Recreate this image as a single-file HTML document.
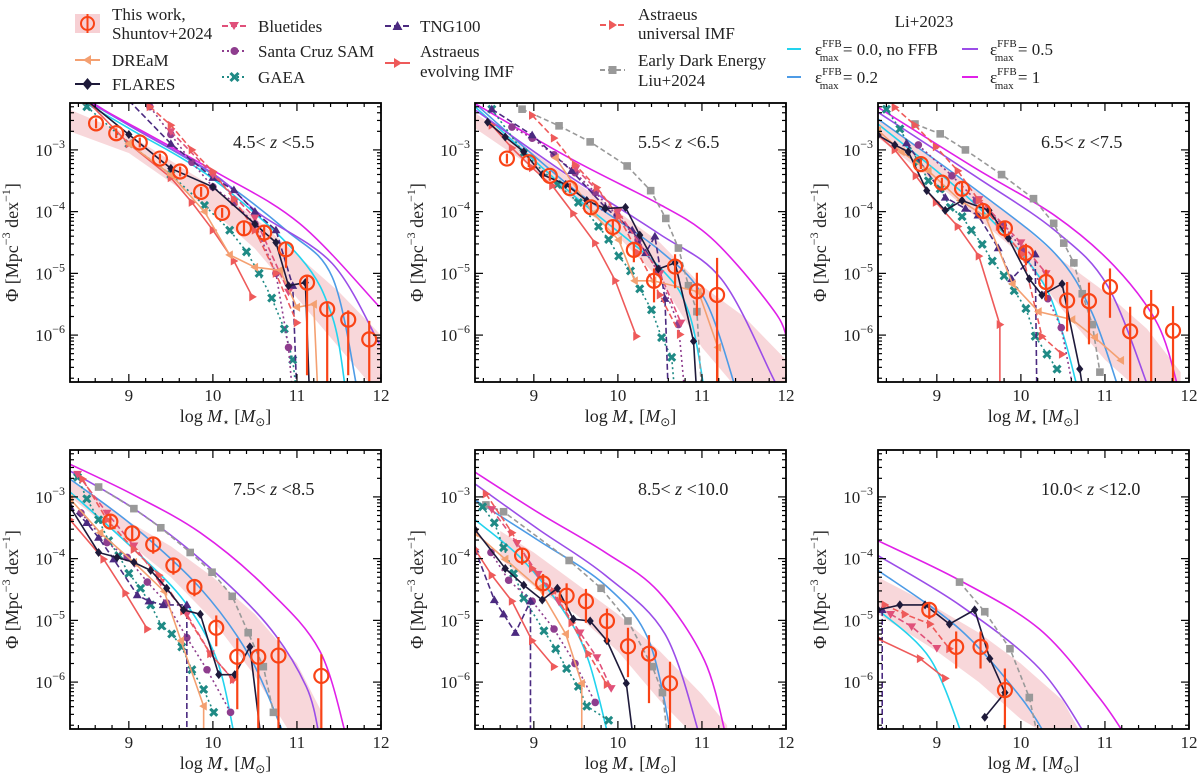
<!DOCTYPE html>
<html><head><meta charset="utf-8">
<style>
html,body{margin:0;padding:0;background:#fff;}
svg{display:block;font-family:"Liberation Serif",serif;}
</style></head>
<body>
<svg id="chart" width="1200" height="778" viewBox="0 0 1200 778" xmlns="http://www.w3.org/2000/svg">
<g id="legend" font-size="17" fill="#222">
  <g>
    <rect x="75" y="14" width="25" height="19" fill="#f7d0d4"/>
    <line x1="87.5" y1="14" x2="87.5" y2="33" stroke="#f94316" stroke-width="2"/>
    <circle cx="87.5" cy="23.5" r="6.5" fill="none" stroke="#f94316" stroke-width="2"/>
    <text x="112" y="20">This work,</text><text x="112" y="39">Shuntov+2024</text>
  </g>
  <g>
    <line x1="75" y1="60" x2="100" y2="60" stroke="#f4a071" stroke-width="2"/>
    <polygon points="83,60 91,55 91,65" fill="#f4a071"/>
    <text x="112" y="66">DREaM</text>
  </g>
  <g>
    <line x1="75" y1="84" x2="100" y2="84" stroke="#1e1a3a" stroke-width="2"/>
    <polygon points="87.5,78 92.5,84 87.5,90 82.5,84" fill="#1e1a3a"/>
    <text x="112" y="90">FLARES</text>
  </g>
  <g>
    <line x1="222" y1="26" x2="247" y2="26" stroke="#e0507a" stroke-width="2" stroke-dasharray="6,3"/>
    <polygon points="229,22 239,22 234,30" fill="#e0507a"/>
    <text x="258" y="32">Bluetides</text>
  </g>
  <g>
    <line x1="222" y1="51" x2="247" y2="51" stroke="#8e3d8e" stroke-width="2" stroke-dasharray="2,3"/>
    <circle cx="234.5" cy="51" r="4" fill="#8e3d8e"/>
    <text x="258" y="57">Santa Cruz SAM</text>
  </g>
  <g>
    <line x1="222" y1="77" x2="247" y2="77" stroke="#1f8a85" stroke-width="2" stroke-dasharray="2,3"/>
    <path d="M230.5,73 L238.5,81 M238.5,73 L230.5,81" stroke="#1f8a85" stroke-width="3"/>
    <text x="258" y="83">GAEA</text>
  </g>
  <g>
    <line x1="385" y1="26" x2="410" y2="26" stroke="#4b2a80" stroke-width="2" stroke-dasharray="6,3"/>
    <polygon points="397.5,21 402.5,30 392.5,30" fill="#4b2a80"/>
    <text x="420" y="32">TNG100</text>
  </g>
  <g>
    <line x1="385" y1="63" x2="410" y2="63" stroke="#ee5a5a" stroke-width="2"/>
    <polygon points="402,63 394,58 394,68" fill="#ee5a5a"/>
    <text x="420" y="57">Astraeus</text><text x="420" y="77">evolving IMF</text>
  </g>
  <g>
    <line x1="600" y1="25" x2="625" y2="25" stroke="#ee5a5a" stroke-width="2" stroke-dasharray="6,3"/>
    <polygon points="617,25 609,20 609,30" fill="#ee5a5a"/>
    <text x="638" y="20">Astraeus</text><text x="638" y="39">universal IMF</text>
  </g>
  <g>
    <line x1="600" y1="70" x2="625" y2="70" stroke="#999" stroke-width="2" stroke-dasharray="5,3"/>
    <rect x="608.5" y="66" width="8" height="8" fill="#999"/>
    <text x="638" y="66">Early Dark Energy</text><text x="638" y="86">Liu+2024</text>
  </g>
  <text x="924" y="27" text-anchor="middle">Li+2023</text>
  <g>
    <line x1="787" y1="49" x2="801" y2="49" stroke="#22d3ee" stroke-width="2"/>
    <text x="815" y="55">ε<tspan font-size="11" dy="-8">FFB</tspan><tspan font-size="11" dx="-22" dy="14">max</tspan><tspan dy="-6"> = 0.0, no FFB</tspan></text>
  </g>
  <g>
    <line x1="787" y1="77" x2="801" y2="77" stroke="#4d9be6" stroke-width="2"/>
    <text x="815" y="83">ε<tspan font-size="11" dy="-8">FFB</tspan><tspan font-size="11" dx="-22" dy="14">max</tspan><tspan dy="-6"> = 0.2</tspan></text>
  </g>
  <g>
    <line x1="962" y1="49" x2="978" y2="49" stroke="#9b4de8" stroke-width="2"/>
    <text x="990" y="55">ε<tspan font-size="11" dy="-8">FFB</tspan><tspan font-size="11" dx="-22" dy="14">max</tspan><tspan dy="-6"> = 0.5</tspan></text>
  </g>
  <g>
    <line x1="962" y1="77" x2="978" y2="77" stroke="#e020e8" stroke-width="2"/>
    <text x="990" y="83">ε<tspan font-size="11" dy="-8">FFB</tspan><tspan font-size="11" dx="-22" dy="14">max</tspan><tspan dy="-6"> = 1</tspan></text>
  </g>
</g>
</svg>
<script>
// ---------- data (x = log M*, y = log10 Phi) ----------
const xTicks = [9, 10, 11, 12];
const yTicks = [-3, -4, -5, -6];
const zLabels = ["4.5", "5.5", "6.5", "7.5", "8.5", "10.0", "12.0"];

// Shuntov+2024: [logM, logPhi, errLow, errHigh]
const shuntov_z5 = [[8.61,-2.57,.08,.08],[8.85,-2.73,.08,.08],[9.13,-2.88,.08,.08],[9.37,-3.14,.08,.08],[9.61,-3.35,.08,.08],[9.86,-3.68,.08,.08],[10.11,-4.02,.08,.08],[10.37,-4.27,.12,.1],[10.61,-4.34,.15,.1],[10.87,-4.61,.3,.1],[11.12,-5.15,1.5,.1],[11.36,-5.58,1.5,.1],[11.61,-5.75,.9,.15],[11.86,-6.07,1.5,.3]];
const shuntov_z6 = [[8.68,-3.14,.08,.08],[8.94,-3.20,.08,.08],[9.19,-3.42,.08,.08],[9.43,-3.62,.08,.08],[9.68,-3.93,.1,.08],[9.94,-4.25,.15,.1],[10.19,-4.62,.2,.12],[10.43,-5.12,.35,.2],[10.68,-4.89,.35,.2],[10.94,-5.29,.4,.3],[11.18,-5.35,1.5,.6]];
const shuntov_z7 = [[8.81,-3.23,.08,.08],[9.06,-3.53,.1,.08],[9.30,-3.63,.12,.1],[9.55,-3.99,.12,.1],[9.81,-4.27,.15,.1],[10.06,-4.67,.2,.15],[10.30,-5.14,.3,.2],[10.55,-5.44,.5,.3],[10.81,-5.45,.7,.3],[11.06,-5.22,.5,.3],[11.30,-5.94,1.5,.4],[11.55,-5.62,1.5,.35],[11.81,-5.93,1.5,.4]];
const shuntov_z8 = [[8.78,-3.40,.1,.1],[9.04,-3.59,.1,.1],[9.29,-3.77,.15,.12],[9.53,-4.11,.15,.12],[9.78,-4.46,.15,.12],[10.04,-5.12,.3,.2],[10.29,-5.59,.85,.3],[10.54,-5.59,1.5,.3],[10.78,-5.57,1.5,.3],[11.29,-5.90,1.5,.35]];
const shuntov_z9 = [[8.86,-3.95,.15,.1],[9.11,-4.40,.2,.15],[9.39,-4.60,.25,.2],[9.62,-4.69,.35,.2],[9.87,-5.01,.35,.2],[10.12,-5.42,.5,.3],[10.37,-5.54,.8,.3],[10.62,-6.02,1.5,.35]];
const shuntov_z11 = [[8.91,-4.83,.15,.1],[9.23,-5.43,.35,.25],[9.52,-5.43,.35,.25],[9.81,-6.13,1.0,.35]];

// Shuntov shaded band: [logM, low, high]
const band_z5 = [[8.3,-2.7,-2.35],[9,-3.05,-2.75],[10,-4.0,-3.6],[10.5,-4.6,-4.1],[11,-5.4,-4.7],[11.5,-6.2,-5.3],[12,-7,-6.0]];
const band_z6 = [[8.3,-2.65,-2.4],[9,-3.3,-3.05],[10,-4.4,-4.0],[10.5,-5.1,-4.5],[11,-6.2,-5.2],[11.5,-7,-5.7],[12,-7,-6.4]];
const band_z7 = [[8.3,-2.8,-2.5],[9,-3.55,-3.2],[10,-4.7,-4.2],[10.5,-5.6,-4.8],[11,-6.4,-5.3],[11.5,-7,-5.9],[11.9,-7,-6.6]];
const band_z8 = [[8.3,-3.0,-2.7],[9,-3.75,-3.4],[9.5,-4.3,-3.8],[10,-5.0,-4.3],[10.5,-5.9,-4.9],[11,-7,-5.7],[11.3,-7,-6.5]];
const band_z9 = [[8.6,-4.0,-3.55],[9,-4.45,-3.9],[9.5,-4.9,-4.4],[10,-5.5,-4.9],[10.5,-6.3,-5.5],[11,-7,-6.2],[11.3,-7,-6.7]];
const band_z11 = [[8.3,-4.9,-4.3],[9,-5.5,-4.8],[9.5,-6.0,-5.2],[10,-6.6,-5.7],[10.5,-7,-6.3],[10.7,-7,-6.8]];

// Li+2023 FFB models
const liEps0_z5 = [[8.3,-2.1],[9.0,-2.65],[10.0,-3.47],[11.03,-4.73],[11.42,-5.70],[11.58,-6.9]];
const liEps02_z5 = [[8.3,-2.05],[9.0,-2.6],[10.0,-3.4],[10.87,-4.30],[11.42,-5.06],[11.72,-6.9]];
const liEps05_z5 = [[8.3,-2.0],[9.0,-2.6],[10.0,-3.38],[10.55,-4.03],[11.42,-4.84],[11.98,-6.14]];
const liEps1_z5 = [[8.3,-2.0],[8.5,-2.2],[10.0,-3.33],[11.03,-4.19],[11.98,-5.54]];
const liEps0_z6 = [[8.3,-2.3],[9.45,-3.71],[10.48,-4.88],[10.84,-5.62],[11.03,-6.9]];
const liEps02_z6 = [[8.3,-2.25],[9.45,-3.61],[10.48,-4.61],[11.03,-5.41],[11.41,-6.9]];
const liEps05_z6 = [[8.3,-2.35],[9.45,-3.45],[10.48,-4.35],[11.23,-5.09],[11.83,-6.65],[11.9,-6.9]];
const liEps1_z6 = [[8.3,-2.25],[9.45,-3.15],[10.48,-3.87],[11.0,-4.3],[11.43,-4.88],[11.89,-5.67],[12.0,-6.0]];
const liEps0_z7 = [[8.3,-2.58],[9.45,-3.87],[10.21,-5.04],[10.49,-5.94],[10.68,-6.9]];
const liEps02_z7 = [[8.3,-2.5],[9.45,-3.63],[10.4,-4.67],[10.84,-5.62],[11.17,-6.9]];
const liEps05_z7 = [[8.3,-2.39],[9.45,-3.42],[10.4,-4.30],[11.03,-5.20],[11.53,-6.9]];
const liEps1_z7 = [[8.3,-2.31],[9.45,-3.29],[10.4,-4.06],[11.11,-4.88],[11.63,-5.83],[11.88,-6.9]];
const liEps0_z8 = [[8.3,-2.92],[9.06,-3.85],[9.66,-4.69],[10.05,-5.65],[10.26,-6.9]];
const liEps02_z8 = [[8.3,-2.71],[9.06,-3.48],[9.85,-4.48],[10.44,-5.59],[10.86,-6.9]];
const liEps05_z8 = [[8.3,-2.58],[9.06,-3.19],[9.85,-4.01],[10.64,-5.06],[11.11,-6.07],[11.27,-6.9]];
const liEps1_z8 = [[8.3,-2.47],[9.06,-2.97],[9.85,-3.58],[10.64,-4.48],[11.27,-5.49],[11.59,-6.9]];
const liEps0_z9 = [[8.3,-3.37],[8.86,-4.01],[9.38,-4.90],[9.65,-5.65],[9.89,-6.9]];
const liEps02_z9 = [[8.3,-3.05],[9.06,-3.71],[9.85,-4.43],[10.36,-5.30],[10.64,-6.9]];
const liEps05_z9 = [[8.3,-2.79],[9.06,-3.53],[9.85,-4.27],[10.56,-5.22],[10.98,-6.9]];
const liEps1_z9 = [[8.3,-2.60],[9.06,-3.26],[9.85,-3.90],[10.48,-4.53],[11.03,-5.65],[11.29,-6.9]];
const liEps0_z11 = [[8.3,-4.83],[8.92,-5.62],[9.33,-6.97]];
const liEps02_z11 = [[8.3,-4.19],[9.27,-5.14],[10.0,-6.25],[10.34,-6.97]];
const liEps05_z11 = [[8.3,-3.95],[9.27,-4.75],[10.22,-5.78],[10.82,-6.97]];
const liEps1_z11 = [[8.3,-3.71],[9.27,-4.35],[10.22,-5.14],[10.93,-6.25],[11.29,-6.97]];

// Simulations / SAMs
const flares_z5 = [[8.5,-2.2],[9.0,-2.75],[9.5,-3.3],[10.0,-3.6],[10.5,-4.2],[10.75,-4.5],[10.9,-5.2],[11.1,-5.15],[11.15,-7]];
const flares_z6 = [[8.45,-2.55],[8.66,-2.79],[8.88,-3.03],[9.10,-3.40],[9.38,-3.56],[9.63,-3.82],[9.85,-3.95],[10.09,-3.93],[10.26,-4.38],[10.48,-4.93],[10.68,-4.83],[10.90,-6.10],[10.94,-7]];
const flares_z7 = [[8.3,-2.76],[8.5,-2.92],[8.66,-3.03],[8.88,-3.66],[9.1,-3.98],[9.3,-3.82],[9.62,-3.98],[9.85,-4.43],[10.1,-5.09],[10.25,-5.35],[10.49,-5.17],[10.7,-6.55],[10.75,-7]];
const flares_z8 = [[8.3,-3.16],[8.64,-3.90],[8.86,-3.98],[9.06,-4.06],[9.26,-4.19],[9.45,-4.48],[9.65,-4.83],[9.85,-4.90],[10.07,-5.88],[10.26,-5.88],[10.44,-5.43],[10.58,-7]];
const flares_z9 = [[8.3,-3.53],[8.66,-4.16],[8.88,-4.43],[9.1,-4.67],[9.28,-4.48],[9.47,-4.98],[9.67,-5.01],[9.87,-5.33],[10.1,-6.02],[10.19,-7]];
const flares_z11 = [[8.3,-4.83],[8.56,-4.75],[8.86,-4.75],[9.15,-5.06],[9.45,-4.83],[9.63,-5.62],[9.81,-6.17],[9.57,-6.57]];

const gaea_z5 = [[8.5,-2.3],[9.0,-2.9],[9.5,-3.4],[9.9,-3.9],[10.2,-4.3],[10.4,-4.65],[10.55,-5.0],[10.7,-5.4],[10.85,-5.9],[10.95,-6.4],[11.0,-7]];
const gaea_z6 = [[8.5,-2.34],[8.88,-3.05],[9.28,-3.56],[9.53,-3.85],[9.77,-4.24],[9.89,-4.45],[10.01,-4.72],[10.15,-4.96],[10.26,-5.25],[10.40,-5.59],[10.52,-6.04],[10.64,-6.36],[10.68,-7]];
const gaea_z7 = [[8.4,-2.34],[8.56,-2.66],[8.78,-3.19],[8.9,-3.5],[9.04,-3.63],[9.16,-3.93],[9.30,-4.08],[9.41,-4.3],[9.54,-4.53],[9.66,-4.80],[9.80,-5.04],[9.92,-5.28],[10.06,-5.57],[10.17,-6.02],[10.31,-6.31],[10.43,-6.55]];
const gaea_z8 = [[8.39,-2.68],[8.5,-3.03],[8.64,-3.37],[8.76,-3.71],[8.88,-3.95],[9.0,-4.24],[9.14,-4.48],[9.26,-4.75],[9.39,-5.09],[9.51,-5.22],[9.63,-5.43],[9.75,-5.80],[9.89,-6.12],[10.01,-6.49]];
const gaea_z9 = [[8.39,-3.16],[8.53,-3.42],[8.64,-3.82],[8.76,-4.24],[8.88,-4.64],[9.12,-5.17],[9.26,-5.46],[9.39,-5.78],[9.53,-6.07],[9.63,-6.39],[9.89,-6.62]];
const gaea_z11 = [];

const santacruz_z5 = [[9.0,-2.1],[9.25,-2.3],[9.5,-2.75],[9.75,-3.2],[10.0,-3.6],[10.25,-3.85],[10.5,-4.2],[10.75,-5.0],[10.9,-6.2],[10.95,-7]];
const santacruz_z6 = [[8.74,-2.63],[8.98,-2.81],[9.24,-3.08],[9.49,-3.37],[9.73,-3.69],[9.99,-4.06],[10.24,-4.46],[10.48,-4.98],[10.72,-5.83],[10.8,-7]];
const santacruz_z7 = [[8.78,-2.92],[9.18,-3.42],[9.47,-3.82],[9.79,-4.22],[10.02,-4.61],[10.32,-5.41],[10.48,-5.88],[10.64,-7]];
const santacruz_z8 = [[8.43,-3.26],[8.74,-3.74],[8.98,-3.98],[9.22,-4.38],[9.45,-4.72],[9.69,-5.28],[9.93,-5.80],[10.21,-6.49]];
const santacruz_z9 = [[8.49,-3.90],[8.7,-4.35],[8.98,-4.69],[9.24,-5.14],[9.49,-5.70],[9.73,-6.33]];
const santacruz_z11 = [];

const tng_z5 = [[9.0,-2.2],[9.5,-2.9],[10.0,-3.45],[10.25,-3.65],[10.5,-4.0],[10.75,-4.3],[10.95,-5.2],[11.0,-7]];
const tng_z6 = [[8.5,-2.34],[8.98,-2.76],[9.45,-3.34],[9.85,-3.93],[10.17,-4.30],[10.33,-4.67],[10.44,-4.4],[10.56,-5.41],[10.6,-7]];
const tng_z7 = [[8.64,-2.89],[9.1,-3.77],[9.34,-3.95],[9.49,-4.06],[9.73,-4.59],[9.89,-5.09],[10.17,-4.69],[10.19,-7]];
const tng_z8 = [[8.3,-3.16],[8.5,-3.42],[8.64,-3.66],[8.82,-4.01],[9.1,-4.59],[9.24,-4.69],[9.41,-4.75],[9.69,-4.75],[9.69,-7]];
const tng_z9 = [[8.3,-3.85],[8.53,-4.67],[8.64,-4.90],[8.78,-5.20],[8.96,-4.69],[8.96,-7]];
const tng_z11 = [[8.35,-4.83],[8.35,-7]];

const astUniv_z5 = [[9.25,-2.3],[9.5,-2.6],[9.75,-3.0],[10.0,-3.35],[10.25,-3.8],[10.5,-4.3],[10.75,-5.0],[11.0,-5.8]];
const astUniv_z6 = [[8.98,-2.44],[9.24,-2.81],[9.49,-3.24],[9.75,-3.61],[10.01,-4.08],[10.24,-4.67],[10.50,-5.35],[10.74,-5.99]];
const astUniv_z7 = [[8.5,-2.31],[8.74,-2.60],[8.99,-2.95],[9.25,-3.34],[9.5,-3.82],[9.74,-4.24],[10.02,-4.69],[10.25,-6.02],[10.49,-6.31]];
const astUniv_z8 = [[8.45,-2.71],[8.74,-3.37],[9.06,-3.85],[9.36,-4.27],[9.65,-4.85],[9.97,-5.54],[10.24,-5.96]];
const astUniv_z9 = [[8.43,-2.95],[8.74,-3.58],[8.98,-4.16],[9.24,-4.53],[9.45,-5.04],[9.65,-5.54],[9.87,-6.04]];
const astUniv_z11 = [[8.38,-4.75],[8.62,-4.90],[8.92,-5.06],[9.15,-5.46]];

const astEvol_z5 = [[8.5,-2.2],[9.0,-2.9],[9.5,-3.45],[9.75,-3.85],[10.0,-4.3],[10.25,-4.8],[10.47,-5.38]];
const astEvol_z6 = [[8.5,-2.6],[8.74,-2.97],[8.98,-3.29],[9.22,-3.58],[9.47,-4.03],[9.73,-4.51],[9.97,-5.12],[10.22,-6.02]];
const astEvol_z7 = [[8.3,-2.76],[8.5,-3.0],[8.75,-3.42],[8.99,-3.85],[9.25,-4.24],[9.5,-4.72],[9.75,-5.83],[9.75,-7]];
const astEvol_z8 = [[8.3,-3.37],[8.7,-4.01],[8.96,-4.56],[9.22,-5.14]];
const astEvol_z9 = [[8.3,-3.85],[8.5,-4.27],[8.74,-4.69],[8.98,-5.33],[9.24,-5.75]];
const astEvol_z11 = [[8.3,-5.3],[8.8,-5.62],[9.1,-5.94]];

const bluetides_z5 = [[9.5,-2.7],[10.0,-3.4],[10.5,-4.1],[10.9,-5.3]];
const bluetides_z6 = [[9.5,-3.3],[10.0,-4.0],[10.5,-5.0],[10.75,-5.8]];
const bluetides_z7 = [[9.5,-3.8],[10.0,-4.5],[10.3,-5.0]];
const bluetides_z8 = [[8.39,-2.63],[8.74,-3.26],[9.06,-3.79],[9.38,-4.38],[9.69,-4.90],[9.97,-5.54],[10.24,-5.96]];
const bluetides_z9 = [[8.5,-3.2],[8.8,-3.75],[9.05,-4.25],[9.3,-4.7],[9.55,-5.2],[9.75,-5.6],[9.92,-6.1]];
const bluetides_z11 = [[8.45,-4.9],[8.7,-5.1],[9.0,-5.45]];

const dream_z5 = [[9.0,-2.9],[9.5,-3.4],[9.9,-4.0],[10.2,-4.7],[10.5,-4.9],[10.8,-4.95],[11.0,-5.55],[11.2,-5.5],[11.25,-7]];
const dream_z6 = [[9.26,-3.13],[9.71,-4.03],[10.01,-4.46],[10.2,-5.12],[10.42,-5.12],[10.96,-5.30],[11.19,-6.2],[11.19,-7]];
const dream_z7 = [[8.3,-2.68],[8.58,-3.03],[8.9,-3.34],[9.28,-3.82],[9.58,-4.08],[9.9,-5.17],[10.21,-5.62],[10.61,-5.75],[10.88,-6.04],[11.19,-6.41]];
const dream_z8 = [[8.3,-3.03],[8.66,-3.58],[9.06,-4.06],[9.42,-4.53],[9.62,-5.33],[9.89,-6.39],[9.89,-7]];
const dream_z9 = [[8.3,-3.58],[8.66,-4.01],[9.06,-4.48],[9.38,-5.22],[9.57,-6.02],[9.57,-7]];
const dream_z11 = [];

const ede_z5 = [];
const ede_z6 = [[8.86,-2.34],[9.30,-2.61],[9.67,-2.87],[10.11,-3.26],[10.39,-3.66],[10.57,-4.11],[10.72,-4.59],[10.84,-5.20],[10.94,-5.62],[11.0,-7]];
const ede_z7 = [[8.74,-2.58],[9.04,-2.74],[9.34,-3.0],[9.77,-3.40],[10.15,-3.79],[10.39,-4.19],[10.51,-4.51],[10.63,-4.83],[10.73,-5.33],[10.85,-5.83],[10.94,-6.6]];
const ede_z8 = [[8.64,-2.84],[9.06,-3.19],[9.38,-3.50],[9.73,-3.90],[9.99,-4.22],[10.23,-4.61],[10.42,-5.20],[10.6,-5.75],[10.72,-6.49]];
const ede_z9 = [[8.43,-3.13],[8.64,-3.24],[9.42,-4.03],[9.80,-4.48],[10.12,-5.01],[10.41,-5.75],[10.53,-6.17],[10.6,-7]];
const ede_z11 = [[9.27,-4.38],[9.57,-4.86],[9.87,-5.46],[10.1,-6.25],[10.22,-7]];

// ---------- layout ----------
const XMIN = 8.3, XMAX = 12, YTOP = -2.24, YBOT = -6.76;
const PW = 311, PH = 279;
const colLeft = [70, 475, 878];
const rowTop = [103, 450];
const NS = "http://www.w3.org/2000/svg";
const svg = document.getElementById("chart");

function mk(tag, attrs, parent) {
  const e = document.createElementNS(NS, tag);
  for (const k in attrs) e.setAttribute(k, attrs[k]);
  if (parent) parent.appendChild(e);
  return e;
}

const panelSets = [
  {sh: shuntov_z5, band: band_z5, li: [liEps0_z5, liEps02_z5, liEps05_z5, liEps1_z5], flares: flares_z5, gaea: gaea_z5, sc: santacruz_z5, tng: tng_z5, au: astUniv_z5, ae: astEvol_z5, bt: bluetides_z5, dr: dream_z5, ede: ede_z5, zlo: zLabels[0], zhi: zLabels[1]},
  {sh: shuntov_z6, band: band_z6, li: [liEps0_z6, liEps02_z6, liEps05_z6, liEps1_z6], flares: flares_z6, gaea: gaea_z6, sc: santacruz_z6, tng: tng_z6, au: astUniv_z6, ae: astEvol_z6, bt: bluetides_z6, dr: dream_z6, ede: ede_z6, zlo: zLabels[1], zhi: zLabels[2]},
  {sh: shuntov_z7, band: band_z7, li: [liEps0_z7, liEps02_z7, liEps05_z7, liEps1_z7], flares: flares_z7, gaea: gaea_z7, sc: santacruz_z7, tng: tng_z7, au: astUniv_z7, ae: astEvol_z7, bt: bluetides_z7, dr: dream_z7, ede: ede_z7, zlo: zLabels[2], zhi: zLabels[3]},
  {sh: shuntov_z8, band: band_z8, li: [liEps0_z8, liEps02_z8, liEps05_z8, liEps1_z8], flares: flares_z8, gaea: gaea_z8, sc: santacruz_z8, tng: tng_z8, au: astUniv_z8, ae: astEvol_z8, bt: bluetides_z8, dr: dream_z8, ede: ede_z8, zlo: zLabels[3], zhi: zLabels[4]},
  {sh: shuntov_z9, band: band_z9, li: [liEps0_z9, liEps02_z9, liEps05_z9, liEps1_z9], flares: flares_z9, gaea: gaea_z9, sc: santacruz_z9, tng: tng_z9, au: astUniv_z9, ae: astEvol_z9, bt: bluetides_z9, dr: dream_z9, ede: ede_z9, zlo: zLabels[4], zhi: zLabels[5]},
  {sh: shuntov_z11, band: band_z11, li: [liEps0_z11, liEps02_z11, liEps05_z11, liEps1_z11], flares: flares_z11, gaea: gaea_z11, sc: santacruz_z11, tng: tng_z11, au: astUniv_z11, ae: astEvol_z11, bt: bluetides_z11, dr: dream_z11, ede: ede_z11, zlo: zLabels[5], zhi: zLabels[6]}
];
const liColors = ["#22d3ee", "#4d9be6", "#9b4de8", "#e020e8"];
const liNames = ["li-eps0-curve", "li-eps02-curve", "li-eps05-curve", "li-eps1-curve"];

function smoothPath(pts) {
  if (pts.length < 2) return "";
  let d = "M" + pts[0][0] + "," + pts[0][1];
  for (let i = 0; i < pts.length - 1; i++) {
    const p0 = pts[Math.max(0, i - 1)], p1 = pts[i], p2 = pts[i + 1], p3 = pts[Math.min(pts.length - 1, i + 2)];
    const c1x = p1[0] + (p2[0] - p0[0]) / 6, c1y = p1[1] + (p2[1] - p0[1]) / 6;
    const c2x = p2[0] - (p3[0] - p1[0]) / 6, c2y = p2[1] - (p3[1] - p1[1]) / 6;
    d += " C" + c1x + "," + c1y + " " + c2x + "," + c2y + " " + p2[0] + "," + p2[1];
  }
  return d;
}

function drawMarker(g, type, x, y, color) {
  let el;
  const s = 4.5;
  if (type === "o") el = mk("circle", {cx: x, cy: y, r: 3.8, fill: color}, g);
  else if (type === "d") el = mk("polygon", {points: `${x},${y-s} ${x+s*0.8},${y} ${x},${y+s} ${x-s*0.8},${y}`, fill: color}, g);
  else if (type === "v") el = mk("polygon", {points: `${x-s},${y-s*0.7} ${x+s},${y-s*0.7} ${x},${y+s}`, fill: color}, g);
  else if (type === "^") el = mk("polygon", {points: `${x-s},${y+s*0.7} ${x+s},${y+s*0.7} ${x},${y-s}`, fill: color}, g);
  else if (type === "<") el = mk("polygon", {points: `${x-s},${y} ${x+s*0.7},${y-s} ${x+s*0.7},${y+s}`, fill: color}, g);
  else if (type === ">") el = mk("polygon", {points: `${x+s},${y} ${x-s*0.7},${y-s} ${x-s*0.7},${y+s}`, fill: color}, g);
  else if (type === "s") el = mk("rect", {x: x - 3.8, y: y - 3.8, width: 7.6, height: 7.6, fill: color}, g);
  else if (type === "x") el = mk("path", {d: `M${x-3.5},${y-3.5}L${x+3.5},${y+3.5}M${x+3.5},${y-3.5}L${x-3.5},${y+3.5}`, stroke: color, "stroke-width": 3}, g);
  
  
}

panelSets.forEach((P, idx) => {
  const left = colLeft[idx % 3], top = rowTop[Math.floor(idx / 3)];
  const sx = m => left + (m - XMIN) / (XMAX - XMIN) * PW;
  const sy = l => top + (YTOP - l) / (YTOP - YBOT) * PH;
  const pg = mk("g", {}, svg);
  
  
  const cp = mk("clipPath", {id: "clip" + idx}, pg);
  mk("rect", {x: left, y: top, width: PW, height: PH}, cp);
  const plot = mk("g", {"clip-path": `url(#clip${idx})`}, pg);
  
  

  const up = P.band.map(b => `${sx(b[0])},${sy(b[2])}`);
  const lo = P.band.slice().reverse().map(b => `${sx(b[0])},${sy(b[1])}`);
  const band = mk("polygon", {points: up.concat(lo).join(" "), fill: "#f7d0d4", opacity: 0.85}, plot);
  
  

  P.li.forEach((c, k) => {
    const p = mk("path", {d: smoothPath(c.map(q => [sx(q[0]), sy(q[1])])), fill: "none", stroke: liColors[k], "stroke-width": 1.6}, plot);
    
    
  });

  const series = [
    {d: P.ede, c: "#999999", dash: "5,3", m: "s", n: "early-dark-energy-line"},
    {d: P.gaea, c: "#1f8a85", dash: "2,3", m: "x", n: "gaea-line"},
    {d: P.sc, c: "#8e3d8e", dash: "2,3", m: "o", n: "santa-cruz-line"},
    {d: P.tng, c: "#4b2a80", dash: "6,3", m: "^", n: "tng100-line"},
    {d: P.bt, c: "#e0507a", dash: "6,3", m: "v", n: "bluetides-line"},
    {d: P.au, c: "#ee5a5a", dash: "6,3", m: ">", n: "astraeus-universal-line"},
    {d: P.ae, c: "#ee5a5a", dash: "", m: ">", n: "astraeus-evolving-line"},
    {d: P.dr, c: "#f4a071", dash: "", m: "<", n: "dream-line"},
    {d: P.flares, c: "#1e1a3a", dash: "", m: "d", n: "flares-line"}
  ];
  series.forEach(S => {
    if (!S.d.length) return;
    const g = mk("g", {}, plot);
    
    
    const attrs = {points: S.d.map(q => `${sx(q[0])},${sy(q[1])}`).join(" "), fill: "none", stroke: S.c, "stroke-width": 1.6};
    if (S.dash) attrs["stroke-dasharray"] = S.dash;
    mk("polyline", attrs, g);
    S.d.forEach(q => { if (q[1] > YBOT) drawMarker(g, S.m, sx(q[0]), sy(q[1]), S.c); });
  });

  const sg = mk("g", {}, plot);
  
  
  P.sh.forEach(q => {
    const x = sx(q[0]);
    const eb = mk("line", {x1: x, x2: x, y1: sy(q[1] - q[2]), y2: sy(q[1] + q[3]), stroke: "#f94316", "stroke-width": 2.2}, sg);
    
    
    const c = mk("circle", {cx: x, cy: sy(q[1]), r: 7, fill: "none", stroke: "#f94316", "stroke-width": 2.2}, sg);
    
    
  });

  const fr = mk("rect", {x: left, y: top, width: PW, height: PH, fill: "none", stroke: "#000", "stroke-width": 1.8}, pg);
  
  

  const tk = mk("g", {stroke: "#000", "stroke-width": 1.2}, pg);
  
  
  for (let i = 0; i <= 18; i++) {
    const m = 8.4 + i * 0.2;
    if (m > XMAX + 1e-6) break;
    const major = Math.abs(m - Math.round(m)) < 1e-6;
    const len = major ? 8 : 4, x = sx(m);
    mk("line", {x1: x, x2: x, y1: top + PH, y2: top + PH - len}, tk);
    mk("line", {x1: x, x2: x, y1: top, y2: top + len}, tk);
  }
  for (let dec = -7; dec <= -3; dec++) {
    for (let k = 1; k <= 9; k++) {
      const l = dec + Math.log10(k);
      if (l > YTOP || l < YBOT) continue;
      const len = k === 1 ? 8 : 4, y = sy(l);
      mk("line", {x1: left, x2: left + len, y1: y, y2: y}, tk);
      mk("line", {x1: left + PW, x2: left + PW - len, y1: y, y2: y}, tk);
    }
  }
  xTicks.forEach(t => {
    const tl = mk("text", {x: sx(t), y: top + PH + 19, "text-anchor": "middle", "font-size": 17, fill: "#222"}, pg);
    tl.textContent = String(t);
    
    
  });
  yTicks.forEach(t => {
    const tl = mk("text", {x: left - 5, y: sy(t) + 6, "text-anchor": "end", "font-size": 17, fill: "#222"}, pg);
    tl.appendChild(document.createTextNode("10"));
    const sp = mk("tspan", {dy: -8, "font-size": 12}, tl);
    sp.textContent = "−" + String(-t);
    
    
  });
  const xt = mk("text", {x: left + PW / 2, y: top + PH + 40, "text-anchor": "middle", "font-size": 18, fill: "#222"}, pg);
  xt.innerHTML = 'log <tspan font-style="italic">M</tspan><tspan font-size="12" dy="4">⋆</tspan><tspan dy="-4"> [</tspan><tspan font-style="italic">M</tspan><tspan font-size="12" dy="4">⊙</tspan><tspan dy="-4">]</tspan>';
  
  
  const yx = left - 52, yy = top + PH / 2;
  const yt = mk("text", {x: yx, y: yy, "text-anchor": "middle", "font-size": 18, fill: "#222", transform: `rotate(-90 ${yx} ${yy})`}, pg);
  yt.innerHTML = 'Φ [Mpc<tspan font-size="12" dy="-8">−3</tspan><tspan dy="8"> dex</tspan><tspan font-size="12" dy="-8">−1</tspan><tspan dy="8">]</tspan>';
  
  
  const zl = mk("text", {x: left + 163, y: top + 45, "font-size": 18, fill: "#222"}, pg);
  zl.innerHTML = P.zlo + '&lt; <tspan font-style="italic">z</tspan> &lt;' + P.zhi;
  
  
});
</script>
</body></html>
